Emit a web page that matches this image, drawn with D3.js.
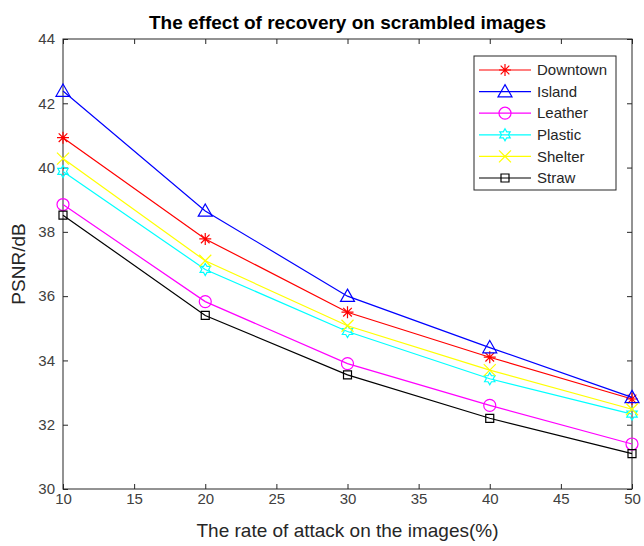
<!DOCTYPE html>
<html>
<head>
<meta charset="utf-8">
<script src="https://cdn.jsdelivr.net/npm/d3@7"></script>
<style>
  body { margin: 0; background: #fff; }
  svg { display: block; font-family: "Liberation Sans", Arial, sans-serif; }
  .axis text { fill: #404040; font-size: 15px; }
  .axis line { stroke: #262626; }
  .axis path { display: none; }
</style>
</head>
<body>
<svg width="644" height="546"></svg>
<script>
// data
const rates = [10, 20, 30, 40, 50];
const seriesNames = ['Downtown', 'Island', 'Leather', 'Plastic', 'Shelter', 'Straw'];
const downtown = [40.93, 37.78, 35.5, 34.1, 32.8];
const island   = [42.38, 38.65, 36.0, 34.4, 32.85];
const leather  = [38.85, 35.83, 33.9, 32.6, 31.4];
const plastic  = [39.88, 36.83, 34.9, 33.43, 32.33];
const shelter  = [40.28, 37.1, 35.08, 33.7, 32.48];
const straw    = [38.52, 35.4, 33.55, 32.2, 31.1];
const xTicks = [10, 15, 20, 25, 30, 35, 40, 45, 50];
const yTicks = [30, 32, 34, 36, 38, 40, 42, 44];

const seriesValues = [downtown, island, leather, plastic, shelter, straw];
const colors = ['#ff0000', '#0000ff', '#ff00ff', '#00ffff', '#ffff00', '#000000'];
const markers = ['star', 'triangle', 'circle', 'hexagram', 'cross', 'square'];

var svg = d3.select('svg'),
    margin = {top: 39, right: 12, bottom: 57, left: 63},
    width = +svg.attr('width') - margin.left - margin.right,
    height = +svg.attr('height') - margin.top - margin.bottom,
    g = svg.append('g').attr('transform', `translate(${margin.left},${margin.top})`);

var x = d3.scaleLinear().domain([10, 50]).range([0, width]);
var y = d3.scaleLinear().domain([30, 44]).range([height, 0]);

// frame ticks, inward like matlab
g.append('g').attr('class', 'axis')
  .attr('transform', `translate(0,${height})`)
  .call(d3.axisBottom(x).tickValues(xTicks).tickSizeInner(-5).tickSizeOuter(0).tickPadding(4));
g.append('g').attr('class', 'axis')
  .call(d3.axisTop(x).tickValues(xTicks).tickSizeInner(-5).tickSizeOuter(0).tickFormat(''));
g.append('g').attr('class', 'axis')
  .call(d3.axisLeft(y).tickValues(yTicks).tickSizeInner(-5).tickSizeOuter(0).tickPadding(8));
g.append('g').attr('class', 'axis')
  .attr('transform', `translate(${width},0)`)
  .call(d3.axisRight(y).tickValues(yTicks).tickSizeInner(-5).tickSizeOuter(0).tickFormat(''));

g.append('rect')
  .attr('width', width).attr('height', height)
  .attr('fill', 'none').attr('stroke', '#262626').attr('stroke-width', 1);

// marker shapes
const markerPath = (type, s) => {
  const p = d3.path();
  if (type === 'star') {
    p.moveTo(-s, 0); p.lineTo(s, 0);
    p.moveTo(0, -s); p.lineTo(0, s);
    const d = s * 0.72;
    p.moveTo(-d, -d); p.lineTo(d, d);
    p.moveTo(-d, d); p.lineTo(d, -d);
  } else if (type === 'triangle') {
    p.moveTo(0, -s); p.lineTo(s, s * 0.75); p.lineTo(-s, s * 0.75); p.closePath();
  } else if (type === 'circle') {
    p.moveTo(s, 0); p.arc(0, 0, s, 0, 2 * Math.PI);
  } else if (type === 'hexagram') {
    const ri = s / Math.sqrt(3);
    for (let i = 0; i < 12; i++) {
      const a = -Math.PI / 2 + i * Math.PI / 6;
      const r = i % 2 ? ri : s;
      if (i === 0) p.moveTo(r * Math.cos(a), r * Math.sin(a));
      else p.lineTo(r * Math.cos(a), r * Math.sin(a));
    }
    p.closePath();
  } else if (type === 'cross') {
    p.moveTo(-s, -s); p.lineTo(s, s);
    p.moveTo(-s, s); p.lineTo(s, -s);
  } else if (type === 'square') {
    p.rect(-s * 0.8, -s * 0.8, s * 1.6, s * 1.6);
  }
  return p.toString();
};
const markerSize = {star: 6, triangle: 7, circle: 6, hexagram: 6, cross: 6, square: 5};

var line = d3.line()
  .x((d, i) => x(rates[i]))
  .y(d => y(d));

seriesValues.forEach((vals, k) => {
  g.append('path')
    .datum(vals)
    .attr('fill', 'none')
    .attr('stroke', colors[k])
    .attr('stroke-width', 1.2)
    .attr('d', line);
  g.selectAll(null)
    .data(vals)
    .enter().append('path')
    .attr('transform', (d, i) => `translate(${x(rates[i])},${y(d)})`)
    .attr('d', markerPath(markers[k], markerSize[markers[k]]))
    .attr('fill', 'none')
    .attr('stroke', colors[k])
    .attr('stroke-width', 1.2);
});

// legend
const legend = svg.append('g').attr('transform', 'translate(474,56)');
legend.append('rect')
  .attr('width', 142).attr('height', 134)
  .attr('fill', '#fff').attr('stroke', '#262626');
seriesNames.forEach((name, k) => {
  const ly = 14 + k * 21.6;
  legend.append('line')
    .attr('x1', 5).attr('x2', 57).attr('y1', ly).attr('y2', ly)
    .attr('stroke', colors[k]).attr('stroke-width', 1.2);
  legend.append('path')
    .attr('transform', `translate(31,${ly})`)
    .attr('d', markerPath(markers[k], markerSize[markers[k]]))
    .attr('fill', 'none').attr('stroke', colors[k]).attr('stroke-width', 1.2);
  legend.append('text')
    .attr('x', 63).attr('y', ly).attr('dy', '0.35em')
    .attr('font-size', 15).attr('fill', '#262626')
    .text(name);
});

// titles
svg.append('text')
  .attr('x', margin.left + width / 2).attr('y', 22).attr('dy', '0.35em')
  .attr('text-anchor', 'middle').attr('font-size', 19).attr('font-weight', 'bold')
  .attr('fill', '#000')
  .text('The effect of recovery on scrambled images');

svg.append('text')
  .attr('x', margin.left + width / 2).attr('y', 530).attr('dy', '0.35em')
  .attr('text-anchor', 'middle').attr('font-size', 19).attr('fill', '#262626')
  .text('The rate of attack on the images(%)');

svg.append('text')
  .attr('transform', `translate(18,${margin.top + height / 2}) rotate(-90)`)
  .attr('dy', '0.35em')
  .attr('text-anchor', 'middle').attr('font-size', 19).attr('fill', '#262626')
  .text('PSNR/dB');
</script>
</body>
</html>
